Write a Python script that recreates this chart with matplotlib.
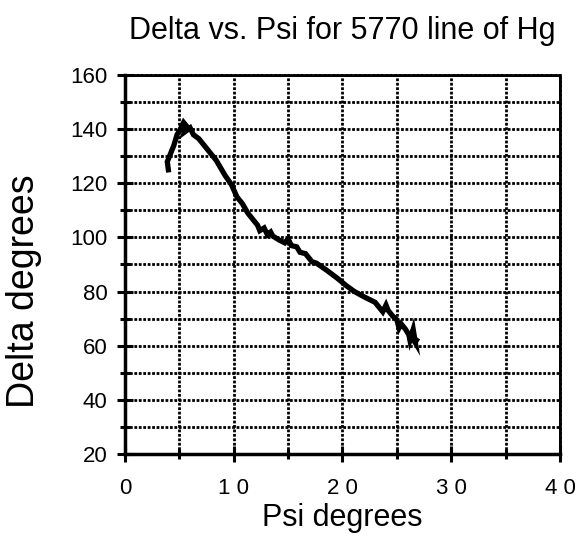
import matplotlib
matplotlib.use("Agg")
import matplotlib.pyplot as plt
from matplotlib.ticker import MultipleLocator

# --- data (Psi, Delta in degrees) ---
psi = [4.0, 3.9, 4.2, 4.5, 4.8, 5.1, 5.4, 5.7, 5.5, 6.0, 6.3, 6.8,
       7.5, 8.4, 9.2, 9.8, 10.3, 10.8, 11.3, 11.8, 12.2, 12.4, 12.8,
       13.1, 13.4, 13.6, 14.2, 14.7, 15.0, 15.3, 15.8, 16.1, 16.6,
       17.2, 17.6, 18.5, 19.5, 20.4, 21.1, 22.0, 22.5, 23.0, 23.5,
       23.7, 24.0, 24.2, 24.6, 25.0, 25.2, 25.4, 25.8, 26.1, 26.2,
       26.5, 26.7, 26.4, 26.8]
delta = [125.0, 128.0, 131.0, 134.0, 138.0, 140.0, 142.5, 141.0, 139.0,
         140.5, 138.0, 136.5, 133.0, 128.5, 123.0, 119.5, 115.0, 112.5,
         109.0, 106.5, 104.5, 102.5, 103.5, 101.0, 102.0, 100.5, 99.0,
         98.0, 99.5, 97.0, 96.5, 94.5, 94.0, 91.0, 90.5, 88.0, 85.0,
         82.0, 80.0, 78.0, 77.0, 76.0, 73.5, 72.5, 75.0, 73.0, 71.0,
         69.5, 66.5, 68.0, 66.0, 64.0, 62.0, 66.0, 61.0, 63.0, 62.0]

xticks = [0, 10, 20, 30, 40]
xticklabels = ['0', '1 0', '2 0', '3 0', '4 0']
yticks = [20, 40, 60, 80, 100, 120, 140, 160]

plt.rcParams['font.family'] = ['Liberation Sans', 'DejaVu Sans']

fig = plt.figure(figsize=(5.78, 5.37), dpi=100)
ax = fig.add_axes([0.216, 0.155, 0.753, 0.705])

ax.plot(psi, delta, color='black', linewidth=3.8, solid_joinstyle='miter')

ax.set_xlim(0, 40)
ax.set_ylim(20, 160)
ax.set_xticks(xticks)
ax.set_xticklabels(xticklabels)
ax.set_yticks(yticks)
ax.xaxis.set_minor_locator(MultipleLocator(5))
ax.yaxis.set_minor_locator(MultipleLocator(10))

grid_style = dict(color='black', linestyle=(0, (1.0, 0.6)), linewidth=2.0)
ax.grid(True, which='both', **grid_style)
ax.set_axisbelow(True)

for side in ['top', 'right']:
    ax.spines[side].set_linestyle((0, (1.0, 0.6)))
    ax.spines[side].set_linewidth(2.0)
for side in ['left', 'bottom']:
    ax.spines[side].set_linewidth(2.5)

ax.tick_params(which='major', direction='inout', length=11, width=2.2,
               labelsize=16)
ax.tick_params(which='minor', direction='inout', length=7, width=2.2)
ax.tick_params(axis='x', which='major', pad=12)
ax.tick_params(axis='y', which='major', pad=7)

ax.set_title('Delta vs. Psi for 5770 line of Hg', fontsize=22, pad=26)
ax.set_xlabel('Psi degrees', fontsize=22, labelpad=3)
ax.set_ylabel('Delta degrees', fontsize=27)
ax.yaxis.set_label_coords(-0.19, 0.43)

fig.savefig('out.png', dpi=100)
